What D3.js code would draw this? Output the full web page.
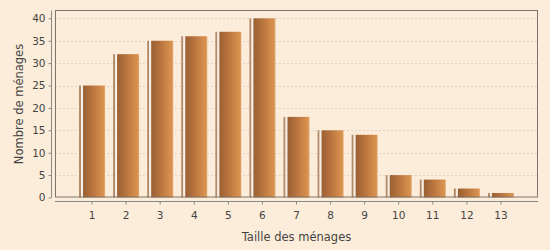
<!DOCTYPE html>
<html>
<head>
<meta charset="utf-8">
<script src="https://cdn.jsdelivr.net/npm/d3@7"></script>
<style>
  body { margin: 0; background: #fcedda; }
  text { font-family: "DejaVu Sans", sans-serif; fill: #444; }
</style>
</head>
<body>
<div id="chart"></div>
<script>
// Data
var sizes = ["1", "2", "3", "4", "5", "6", "7", "8", "9", "10", "11", "12", "13"];
var households = [25, 32, 35, 36, 37, 40, 18, 15, 14, 5, 4, 2, 1];
var yTicks = [0, 5, 10, 15, 20, 25, 30, 35, 40];

var width = 550, height = 250,
    plot = { left: 55, top: 10.5, right: 538, bottom: 197.5 };

var svg = d3.select("#chart").append("svg")
    .attr("width", width)
    .attr("height", height);

svg.append("rect").attr("width", width).attr("height", height).attr("fill", "#fcedda");

// gradient for bars
var defs = svg.append("defs");
var grad = defs.append("linearGradient").attr("id", "barGrad")
    .attr("x1", "0%").attr("x2", "100%").attr("y1", "0%").attr("y2", "0%");
[["0%", "#9a6033"], ["35%", "#b3703c"], ["80%", "#d38b4b"], ["93%", "#d8924f"], ["100%", "#e3aa75"]]
    .forEach(function(s) { grad.append("stop").attr("offset", s[0]).attr("stop-color", s[1]); });

var x = d3.scaleBand()
    .domain(sizes)
    .range([plot.left + 20, plot.right - 20]);

var y = d3.scaleLinear()
    .domain([0, 41.75])
    .range([plot.bottom, plot.top]);

// gridlines
svg.append("g")
    .selectAll("line")
    .data(yTicks.filter(function(d) { return d > 0; }))
    .enter().append("line")
    .attr("x1", plot.left).attr("x2", plot.right)
    .attr("y1", function(d) { return Math.round(y(d)) + 0.5; })
    .attr("y2", function(d) { return Math.round(y(d)) + 0.5; })
    .attr("stroke", "#ddd3c8")
    .attr("stroke-dasharray", "2,2");

// bars
var bars = svg.append("g").selectAll("g")
    .data(households)
    .enter().append("g")
    .attr("transform", function(d, i) { return "translate(" + (x(sizes[i]) + x.bandwidth() / 2) + ",0)"; });

bars.append("rect")
    .attr("x", -13).attr("width", 2)
    .attr("y", function(d) { return y(d); })
    .attr("height", function(d) { return plot.bottom - y(d); })
    .attr("fill", "#b38a68");

bars.append("rect")
    .attr("x", -11).attr("width", 2)
    .attr("y", function(d) { return y(d); })
    .attr("height", function(d) { return plot.bottom - y(d); })
    .attr("fill", "#f6efe8");

bars.append("rect")
    .attr("x", -9).attr("width", 22)
    .attr("y", function(d) { return y(d); })
    .attr("height", function(d) { return plot.bottom - y(d); })
    .attr("fill", "url(#barGrad)");

// plot frame
svg.append("rect")
    .attr("x", plot.left + 0.5).attr("y", plot.top)
    .attr("width", plot.right - plot.left - 1)
    .attr("height", plot.bottom - plot.top - 0.5)
    .attr("fill", "none")
    .attr("stroke", "#7d756d");

// y axis
var yAxis = d3.axisLeft(y)
    .tickValues(yTicks)
    .tickSize(3)
    .tickPadding(3)
    .tickSizeOuter(0);

var gy = svg.append("g")
    .attr("transform", "translate(51.5,0)")
    .call(yAxis);
gy.select(".domain").attr("stroke", "#888").attr("d", "M0," + plot.top + "V" + plot.bottom);
gy.selectAll(".tick line").attr("stroke", "#888");
gy.selectAll(".tick text").style("font-size", "10.5px").attr("fill", "#444");

// x axis
var xAxis = d3.axisBottom(x)
    .tickSize(3)
    .tickPadding(7)
    .tickSizeOuter(0);

var gx = svg.append("g")
    .attr("transform", "translate(0,201.5)")
    .call(xAxis);
gx.select(".domain").attr("stroke", "#888").attr("d", "M" + plot.left + ",0H" + plot.right);
gx.selectAll(".tick line").attr("stroke", "#888");
gx.selectAll(".tick text").style("font-size", "10.5px").attr("fill", "#444");

// axis titles
svg.append("text")
    .attr("x", (plot.left + plot.right) / 2)
    .attr("y", 241)
    .attr("text-anchor", "middle")
    .style("font-size", "11.5px")
    .text("Taille des ménages");

svg.append("text")
    .attr("transform", "translate(23," + ((plot.top + plot.bottom) / 2) + ")rotate(-90)")
    .attr("text-anchor", "middle")
    .style("font-size", "11.5px")
    .text("Nombre de ménages");
</script>
</body>
</html>
